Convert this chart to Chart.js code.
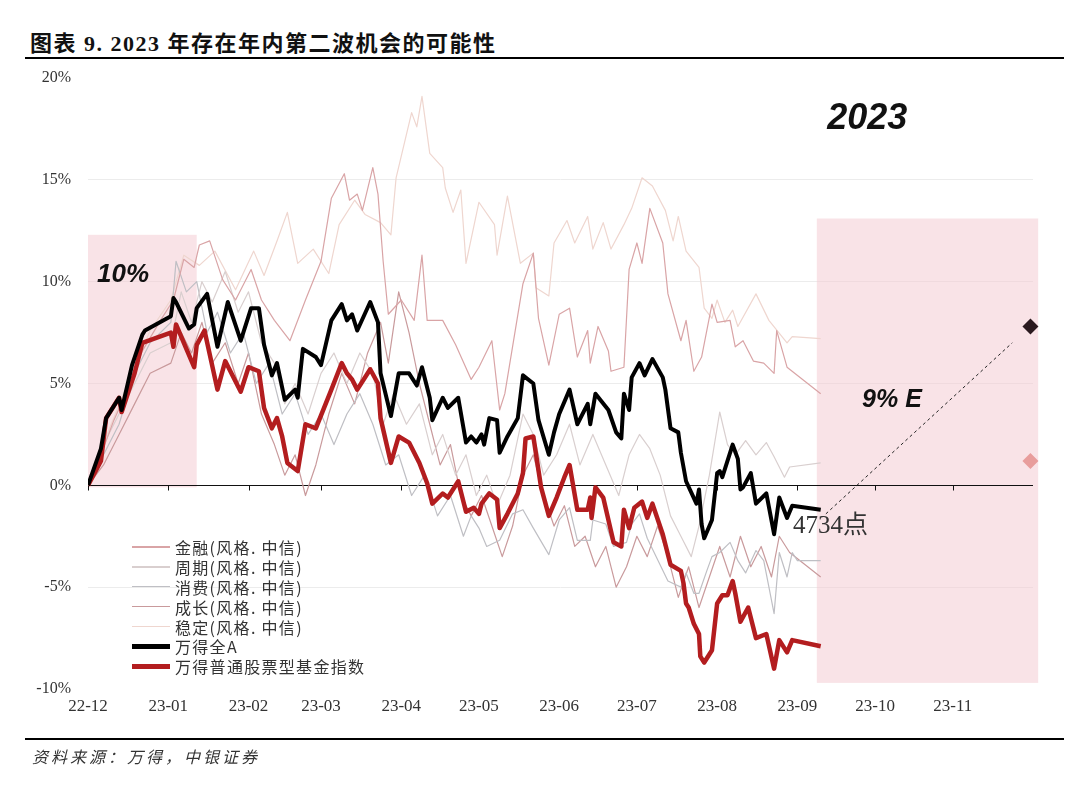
<!DOCTYPE html>
<html>
<head>
<meta charset="utf-8">
<script src="https://cdn.jsdelivr.net/npm/chart.js@4"></script>
<style>
  body { margin: 0; background: #fff; width: 1080px; height: 787px; overflow: hidden; position: relative; }
  #title { position: absolute; left: 30px; top: 25px; font: bold 22px "Liberation Serif", "Noto Sans CJK SC", serif; letter-spacing: 1.5px; color: #111; white-space: nowrap; }
  .rule { position: absolute; left: 25px; width: 1039px; height: 2px; background: #000; }
  #src { position: absolute; left: 32px; top: 744px; font: italic 16px "Noto Sans CJK SC", sans-serif; letter-spacing: 3px; color: #333; }
  #wrap { position: absolute; left: 0; top: 0; width: 1080px; height: 787px; }
  #legend { position: absolute; left: 132px; top: 537px; font: 16px "Noto Sans CJK SC", sans-serif; letter-spacing: 1.3px; color: #333; }
  .row { height: 19.9px; display: flex; align-items: center; white-space: nowrap; }
  .sw { width: 38px; margin-right: 5px; }
</style>
</head>
<body>
<div id="title">图表 9. 2023 年存在年内第二波机会的可能性</div>
<div class="rule" style="top:57px"></div>
<div id="wrap"><canvas id="chart"></canvas></div>
<div id="legend"></div>
<div class="rule" style="top:738px"></div>
<div id="src">资料来源：万得，中银证券</div>

<script>
// x = days since 2022-12-01, y = cumulative return (%)
const monthStarts = [0, 31, 62, 90, 121, 151, 182, 212, 243, 274, 304, 334];
const monthLabels = ["22-12", "23-01", "23-02", "23-03", "23-04", "23-05", "23-06", "23-07", "23-08", "23-09", "23-10", "23-11"];

const seriesNames = ["金融(风格. 中信)", "周期(风格. 中信)", "消费(风格. 中信)", "成长(风格. 中信)", "稳定(风格. 中信)", "万得全A", "万得普通股票型基金指数"];

const finance = [[0,0],[5,1.5],[10,3.2],[16,4.9],[21,6.6],[28,8.1],[33,9.1],[37,11.1],[41,10.7],[43,11.8],[47,12.0],[52,10.1],[57,9.1],[63,10.6],[67,9.1],[72,8.1],[78,7.1],[84,9.1],[90,11.0],[94,14.1],[99,15.3],[101,14.0],[104,14.3],[106,13.5],[110,15.6],[112,14.3],[114,11.0],[116,8.4],[121,9.1],[126,8.1],[129,11.3],[131,8.1],[137,8.1],[142,6.9],[148,5.2],[151,5.8],[156,7.1],[159,3.7],[161,4.5],[168,9.9],[172,11.4],[174,8.2],[178,5.9],[182,8.4],[186,8.7],[189,6.3],[193,7.6],[194,6.0],[197,7.8],[201,6.6],[202,5.6],[207,5.8],[209,10.6],[212,11.9],[214,10.9],[217,13.6],[222,11.9],[224,9.4],[229,7.1],[231,8.1],[234,5.6],[237,6.3],[241,8.9],[243,8.0],[248,8.1],[250,6.8],[253,7.1],[257,6.1],[261,6.0],[265,5.5],[266,7.6],[270,5.8],[283,4.5]];

const cyclical = [[0,0],[6,2.0],[12,3.5],[18,5.0],[24,6.5],[32,7.0],[36,9.5],[40,8.0],[44,10.0],[48,9.0],[53,10.5],[58,8.5],[62,9.5],[67,7.0],[72,6.0],[76,4.0],[80,5.0],[85,3.5],[90,5.5],[95,6.5],[100,5.0],[105,6.5],[110,5.5],[114,3.0],[118,4.5],[123,3.0],[128,4.0],[133,1.5],[137,2.5],[142,0.5],[146,1.5],[150,-0.5],[154,0.5],[158,-1.0],[163,0.5],[168,3.5],[172,2.5],[176,0.5],[181,1.5],[186,3.0],[190,1.0],[195,2.5],[200,1.0],[205,-0.5],[209,1.5],[213,2.5],[217,1.8],[221,0.5],[225,-1.5],[229,-2.5],[233,-3.5],[236,-2.0],[240,0.5],[244,3.6],[247,2.0],[250,1.5],[254,2.2],[258,1.5],[262,2.1],[265,1.4],[269,0.4],[271,0.9],[283,1.1]];

const consumer = [[0,0],[6,1.5],[12,3.0],[18,5.5],[24,7.0],[32,8.0],[34,11.0],[38,9.5],[42,10.0],[46,7.5],[50,8.5],[55,6.5],[60,7.5],[65,5.0],[70,6.0],[75,3.5],[80,4.5],[85,2.5],[90,3.5],[95,2.0],[100,3.5],[105,4.5],[110,3.0],[115,1.0],[120,1.5],[125,-0.5],[130,0.5],[135,-1.5],[140,-0.5],[145,-2.5],[148,-1.5],[151,-2.1],[154,-3.0],[159,-2.7],[164,-1.4],[168,-1.2],[172,-2.1],[178,-3.4],[182,-1.7],[186,-1.1],[189,-2.7],[194,-2.7],[195,-1.7],[200,-1.9],[203,-3.0],[208,-2.8],[210,-1.9],[213,-1.4],[216,-2.6],[224,-4.7],[229,-5.0],[231,-4.3],[234,-5.3],[236,-5.3],[239,-4.2],[241,-3.5],[244,-3.3],[248,-2.8],[251,-3.7],[254,-4.3],[258,-3.2],[261,-3.7],[263,-5.0],[265,-6.3],[267,-3.3],[270,-4.5],[272,-3.3],[274,-3.7],[283,-3.7]];

const growth = [[0,0],[6,1.0],[12,2.5],[18,4.0],[24,5.5],[32,6.0],[36,7.5],[40,6.5],[44,8.0],[48,6.0],[53,7.0],[58,5.0],[62,6.5],[67,3.5],[72,2.0],[76,0.5],[80,1.5],[84,-0.5],[88,1.0],[93,3.5],[98,5.5],[103,4.0],[108,6.5],[113,8.0],[116,6.0],[120,9.5],[124,7.5],[128,5.0],[132,3.0],[136,1.0],[140,2.0],[144,-0.5],[148,-1.5],[152,-0.5],[156,-2.0],[160,-3.5],[164,-2.0],[168,0.5],[172,1.5],[176,-0.5],[180,-2.0],[184,-1.0],[188,-3.0],[192,-2.5],[196,-4.0],[200,-3.0],[204,-5.0],[208,-4.0],[212,-2.5],[216,-3.5],[220,-2.0],[224,-3.5],[228,-5.5],[232,-4.0],[236,-6.0],[240,-4.5],[244,-3.0],[248,-4.5],[252,-2.5],[256,-4.0],[260,-3.0],[264,-4.5],[267,-2.5],[271,-3.3],[283,-4.5]];

const stable = [[0,0],[8,2.7],[16,5.2],[24,7.6],[32,9.1],[37,11.3],[43,10.8],[49,11.5],[57,9.6],[64,11.5],[68,10.3],[73,12.0],[77,13.4],[81,10.9],[87,11.6],[93,10.4],[97,12.8],[103,14.0],[107,13.3],[113,12.9],[117,12.3],[119,15.1],[125,18.3],[127,17.6],[129,19.1],[132,16.3],[137,15.6],[138,14.6],[141,13.4],[144,14.5],[146,10.9],[151,13.9],[157,12.8],[158,11.3],[162,14.2],[167,10.9],[172,11.4],[173,9.7],[178,9.3],[180,11.9],[185,13.0],[188,11.9],[193,13.2],[195,11.6],[199,12.9],[202,11.6],[207,12.8],[210,13.6],[214,15.1],[218,14.7],[223,13.5],[226,12.0],[228,13.2],[231,11.5],[236,10.7],[238,8.7],[241,8.2],[243,9.1],[246,8.0],[249,8.6],[251,7.8],[258,9.4],[263,8.1],[270,7.0],[272,7.3],[283,7.2]];

const windA = [[0,0],[5,1.8],[7,3.3],[12,4.3],[13,3.7],[17,5.9],[21,7.4],[22,7.6],[32,8.3],[33,9.2],[34,9.0],[39,7.7],[41,7.9],[42,8.7],[46,9.4],[50,6.8],[54,9.0],[59,7.1],[63,8.7],[66,8.7],[68,6.9],[71,5.4],[73,6.0],[76,4.2],[80,4.7],[81,4.3],[83,6.7],[88,6.3],[90,5.9],[94,8.1],[98,8.9],[100,8.1],[102,8.4],[104,7.6],[109,9.0],[112,8.0],[113,5.5],[117,3.4],[120,5.5],[124,5.5],[127,4.9],[129,5.8],[132,4.3],[133,3.2],[137,4.3],[139,3.8],[143,4.3],[146,2.1],[148,2.4],[150,2.1],[152,2.5],[153,2.0],[155,3.3],[158,3.2],[159,1.6],[162,2.4],[166,3.3],[168,5.4],[172,5.0],[174,3.2],[178,1.5],[180,2.6],[182,3.5],[186,4.7],[189,3.0],[193,4.0],[194,3.0],[196,4.5],[201,3.7],[204,2.6],[206,2.3],[207,4.5],[209,3.7],[210,5.3],[213,6.0],[215,5.4],[218,6.2],[222,5.3],[223,4.7],[225,2.8],[228,2.6],[229,1.6],[231,0.2],[235,-0.9],[236,-0.2],[237,-1.9],[238,-2.6],[241,-1.7],[243,0.6],[244,0.7],[245,0.4],[249,2.0],[251,1.3],[252,-0.2],[253,-0.1],[256,0.6],[258,-0.9],[262,-0.4],[265,-2.4],[267,-0.6],[270,-1.6],[272,-1.0],[283,-1.2]];

const fundIndex = [[0,0],[5,1.2],[7,3.3],[12,4.3],[13,3.6],[18,5.5],[21,7.0],[32,7.5],[33,6.8],[34,7.9],[38,6.7],[41,5.8],[42,6.9],[45,7.6],[50,4.7],[53,6.1],[59,4.6],[62,5.8],[66,5.6],[68,3.8],[71,2.8],[73,3.3],[75,2.4],[77,1.1],[81,0.7],[84,3.0],[88,2.8],[94,4.7],[98,6.0],[100,5.5],[102,5.2],[104,4.7],[109,5.7],[112,5.0],[113,3.3],[117,1.1],[120,2.4],[124,2.1],[128,1.1],[131,0.1],[133,-0.9],[137,-0.4],[139,-0.6],[143,0.2],[146,-1.3],[149,-1.1],[151,-1.4],[152,-0.9],[155,-0.4],[158,-0.7],[159,-2.1],[162,-1.4],[166,-0.4],[168,0.6],[169,2.3],[172,2.4],[175,-0.1],[178,-1.5],[181,-0.6],[184,0.4],[186,1.0],[189,-1.2],[193,-1.2],[194,-0.6],[194.5,-1.6],[196,-0.1],[199,-0.6],[203,-2.8],[206,-3.0],[207,-1.2],[209,-2.1],[211,-1.1],[214,-0.8],[216,-1.6],[218,-0.9],[222,-2.4],[225,-3.9],[229,-4.2],[230,-4.8],[231,-5.8],[232,-6.0],[234,-6.8],[236,-7.3],[236.5,-8.4],[238,-8.7],[241,-8.1],[243,-5.8],[245,-5.4],[247,-5.4],[249,-4.7],[250,-5.3],[252,-6.7],[255,-6.0],[258,-7.5],[262,-7.3],[265,-9.0],[267,-7.6],[270,-8.2],[272,-7.6],[283,-7.9]];

// forecast: dashed path to year-end target, and two year-end markers
const forecastPath = [[285, -1.4], [357, 7.0]];
const targetDark = [[364, 7.8]];
const targetLight = [[364, 1.2]];

// shaded windows [startDay, endDay, topPct, bottomPct]
const shadeBoxes = [[0, 42, 12.3, -0.1], [281.5, 367, 13.1, -9.7]];

const seriesColors = ["#d9a4a6", "#d9cfcf", "#bfbfc4", "#c99a9c", "#efd6cf", "#000000", "#b31d1f"];
const seriesWidths = [1.2, 1.2, 1.2, 1.2, 1.2, 4, 4.5];
const seriesData = [finance, cyclical, consumer, growth, stable, windA, fundIndex];

const toPts = arr => arr.map(p => ({ x: p[0], y: p[1] }));

const datasets = seriesData.map((d, i) => ({
  label: seriesNames[i],
  data: toPts(d),
  borderColor: seriesColors[i],
  borderWidth: seriesWidths[i],
  pointRadius: 0,
  tension: 0,
  borderJoinStyle: "round",
  order: i === 5 ? 1 : i === 6 ? 2 : 3
}));
datasets.push({ data: toPts(forecastPath), borderColor: "#222", borderWidth: 1, borderDash: [3, 3], pointRadius: 0, order: 0 });
datasets.push({ type: "scatter", data: toPts(targetDark), pointStyle: "rectRot", radius: 8, backgroundColor: "#2b1a1f", borderWidth: 0, clip: false, order: 0 });
datasets.push({ type: "scatter", data: toPts(targetLight), pointStyle: "rectRot", radius: 8, backgroundColor: "#e89d9c", borderWidth: 0, clip: false, order: 0 });

const backdrop = {
  id: "backdrop",
  beforeDatasetsDraw(chart) {
    const { ctx, scales: { x, y }, chartArea } = chart;
    ctx.save();
    ctx.fillStyle = "rgba(244, 204, 211, 0.55)";
    shadeBoxes.forEach(b => {
      const l = x.getPixelForValue(b[0]), r = x.getPixelForValue(b[1]);
      const t = y.getPixelForValue(b[2]), btm = y.getPixelForValue(b[3]);
      ctx.fillRect(l, t, r - l, btm - t);
    });
    // zero axis with month ticks
    const y0 = Math.round(y.getPixelForValue(0)) + 0.5;
    ctx.strokeStyle = "#111";
    ctx.lineWidth = 1;
    ctx.beginPath();
    ctx.moveTo(chartArea.left, y0);
    ctx.lineTo(chartArea.right, y0);
    monthStarts.forEach(m => {
      const px = Math.round(x.getPixelForValue(m)) + 0.5;
      ctx.moveTo(px, y0);
      ctx.lineTo(px, y0 + 5);
    });
    ctx.stroke();
    ctx.restore();
  }
};

const notes = {
  id: "notes",
  afterDatasetsDraw(chart) {
    const { ctx, scales: { x, y } } = chart;
    const put = (txt, dx, dy, font, color) => {
      ctx.font = font;
      ctx.fillStyle = color;
      ctx.textAlign = "left";
      ctx.textBaseline = "alphabetic";
      ctx.fillText(txt, x.getPixelForValue(dx), y.getPixelForValue(dy));
    };
    ctx.save();
    put("10%", 3.5, 10.0, "italic bold 26px 'Liberation Sans'", "#111");
    put("2023", 285.5, 17.5, "italic bold 36px 'Liberation Sans'", "#111");
    put("9% E", 299, 3.85, "italic bold 25px 'Liberation Sans'", "#111");
    put("4734点", 272.3, -2.35, "25px 'Liberation Serif', 'Noto Sans CJK SC'", "#333");
    ctx.restore();
  }
};

new Chart(document.getElementById("chart"), {
  type: "line",
  data: { datasets },
  options: {
    responsive: true,
    maintainAspectRatio: false,
    animation: false,
    layout: { padding: { left: 0, right: 47, top: 78, bottom: 68 } },
    plugins: { legend: { display: false }, tooltip: { enabled: false } },
    scales: {
      x: {
        type: "linear",
        min: 0,
        max: 365,
        afterBuildTicks: s => { s.ticks = monthStarts.map(v => ({ value: v })); },
        afterFit: s => { s.height = 30; },
        grid: { display: false, drawTicks: false },
        border: { display: false },
        ticks: {
          autoSkip: false, maxRotation: 0, padding: 7,
          color: "#333", font: { family: "Liberation Serif", size: 17 },
          callback: (v, i) => monthLabels[i]
        }
      },
      y: {
        min: -10,
        max: 20,
        afterFit: s => { s.width = 88; },
        grid: {
          drawTicks: false,
          color: c => [15, 10, 5, -5].includes(c.tick.value) ? "#ececec" : "rgba(0,0,0,0)"
        },
        border: { display: false },
        ticks: {
          stepSize: 5, padding: 17,
          color: "#333", font: { family: "Liberation Serif", size: 16 },
          callback: v => v + "%"
        }
      }
    }
  },
  plugins: [backdrop, notes]
});

// legend
const legend = document.getElementById("legend");
seriesNames.forEach((name, i) => {
  const row = document.createElement("div");
  row.className = "row";
  const h = i >= 5 ? 5 : 1.5;
  row.innerHTML = `<div class="sw" style="height:${h}px;background:${seriesColors[i]}"></div><span>${name}</span>`;
  legend.appendChild(row);
});
</script>
</body>
</html>
